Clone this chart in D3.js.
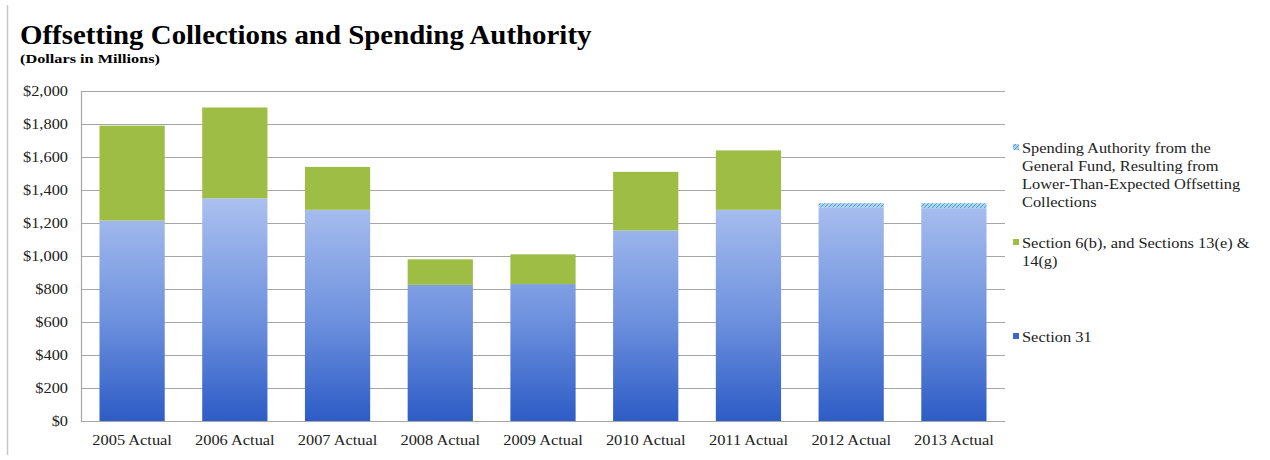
<!DOCTYPE html>
<html><head><meta charset="utf-8">
<script src="https://cdn.jsdelivr.net/npm/d3@7"></script>
<style>body{margin:0;background:#fff;}svg{display:block;font-family:"Liberation Serif","Times New Roman",serif;}</style>
</head><body>
<svg id="c" width="1270" height="460"></svg>
<script>
const categories = ["2005 Actual","2006 Actual","2007 Actual","2008 Actual","2009 Actual","2010 Actual","2011 Actual","2012 Actual","2013 Actual"];
const section31 = [1215,1350,1280,825,830,1155,1280,1295,1290];
const section6b = [575,550,260,155,180,355,360,0,0];
const generalFund = [0,0,0,0,0,0,0,25,30];
const yTicks = [0,200,400,600,800,1000,1200,1400,1600,1800,2000];
const seriesNames = ["Spending Authority from the General Fund, Resulting from Lower-Than-Expected Offsetting Collections","Section 6(b), and Sections 13(e) & 14(g)","Section 31"];

const svg = d3.select("#c");
const m = {left:81, right:1005, top:91, bottom:421};
const x = d3.scaleBand().domain(categories).range([m.left, m.right]).paddingInner(0.365).paddingOuter(0.18);
const y = d3.scaleLinear().domain([0,2000]).range([m.bottom, m.top]);

function stretch(sel, f){
  sel.each(function(){
    const L = this.getComputedTextLength();
    d3.select(this).attr("textLength", L*f).attr("lengthAdjust","spacingAndGlyphs");
  });
}

const defs = svg.append("defs");
const grad = defs.append("linearGradient").attr("id","blueGrad").attr("x1",0).attr("x2",0)
  .attr("gradientUnits","userSpaceOnUse").attr("y1", m.top+100).attr("y2", m.bottom);
grad.append("stop").attr("offset","0%").attr("stop-color","#aec3f0");
grad.append("stop").attr("offset","55%").attr("stop-color","#6f92de");
grad.append("stop").attr("offset","100%").attr("stop-color","#2d5cc6");
const pat = defs.append("pattern").attr("id","hatch").attr("width",4).attr("height",4).attr("patternUnits","userSpaceOnUse");
pat.append("rect").attr("width",4).attr("height",4).attr("fill","#a9d3ee");
pat.append("path").attr("d","M0,4 L4,0 M-1,1 L1,-1 M3,5 L5,3").attr("stroke","#4f9ad0").attr("stroke-width",1);

// left border line
svg.append("line").attr("x1",7.5).attr("x2",7.5).attr("y1",5).attr("y2",455).attr("stroke","#c8c8c8").attr("stroke-width",1.5);

// title
const title = svg.append("text").attr("x",20).attr("y",44).attr("font-size",27).attr("font-weight","bold").attr("fill","#000")
  .text("Offsetting Collections and Spending Authority");
stretch(title, 1.07);
const sub = svg.append("text").attr("x",20).attr("y",63).attr("font-size",13).attr("font-weight","bold").attr("fill","#000")
  .text("(Dollars in Millions)");
stretch(sub, 1.25);

// gridlines
svg.append("g").selectAll("line").data(yTicks).join("line")
  .attr("x1",m.left).attr("x2",m.right).attr("y1",d=>Math.round(y(d))+0.5).attr("y2",d=>Math.round(y(d))+0.5)
  .attr("stroke","#a6a6a6").attr("stroke-width",1.2);
svg.append("line").attr("x1",m.left+0.5).attr("x2",m.left+0.5).attr("y1",m.top).attr("y2",m.bottom).attr("stroke","#a6a6a6").attr("stroke-width",1.2);

// y axis labels
const yAxis = d3.axisLeft(y).tickValues(yTicks).tickSize(0).tickPadding(13).tickFormat(d=>"$"+d3.format(",")(d));
const ya = svg.append("g").attr("transform",`translate(${m.left},0)`).call(yAxis);
ya.select(".domain").remove();
ya.selectAll("text").attr("font-size",14).attr("fill","#222").attr("font-family","Liberation Serif, serif");
stretch(ya.selectAll("text"), 1.17);

// x axis labels
const xAxis = d3.axisBottom(x).tickSize(0).tickPadding(14);
const xa = svg.append("g").attr("transform",`translate(0,${m.bottom})`).call(xAxis);
xa.select(".domain").remove();
xa.selectAll("text").attr("font-size",14).attr("fill","#222").attr("font-family","Liberation Serif, serif");
stretch(xa.selectAll("text"), 1.17);

// bars
const data = categories.map((c,i)=>({c, s31:section31[i], s6:section6b[i], gf:generalFund[i]}));
const g = svg.append("g");
g.selectAll("rect.s31").data(data).join("rect").attr("class","s31")
  .attr("x",d=>x(d.c)).attr("width",x.bandwidth()).attr("y",d=>y(d.s31)).attr("height",d=>y(0)-y(d.s31)).attr("fill","url(#blueGrad)");
g.selectAll("rect.s6").data(data.filter(d=>d.s6>0)).join("rect").attr("class","s6")
  .attr("x",d=>x(d.c)).attr("width",x.bandwidth()).attr("y",d=>y(d.s31+d.s6)).attr("height",d=>y(d.s31)-y(d.s31+d.s6)).attr("fill","#9dbd45");
g.selectAll("rect.gf").data(data.filter(d=>d.gf>0)).join("rect").attr("class","gf")
  .attr("x",d=>x(d.c)).attr("width",x.bandwidth()).attr("y",d=>y(d.s31+d.s6+d.gf)).attr("height",d=>y(d.s31+d.s6)-y(d.s31+d.s6+d.gf)).attr("fill","url(#hatch)");

// legend
const legend = [
  {name:seriesNames[0], lines:["Spending Authority from the","General Fund, Resulting from","Lower-Than-Expected Offsetting","Collections"], fill:"url(#hatch)", y:153},
  {name:seriesNames[1], lines:["Section 6(b), and Sections 13(e) &","14(g)"], fill:"#9dbd45", y:248},
  {name:seriesNames[2], lines:["Section 31"], fill:"#3b66cc", y:342}
];
const lg = svg.append("g");
legend.forEach(L=>{
  lg.append("rect").attr("x",1013).attr("y",L.y-9).attr("width",6).attr("height",6).attr("fill",L.fill);
  L.lines.forEach((ln,i)=>{
    const t = lg.append("text").attr("x",1022).attr("y",L.y + i*18).attr("font-size",14).attr("fill","#222").text(ln);
    stretch(t, 1.17);
  });
});
</script>
</body></html>
